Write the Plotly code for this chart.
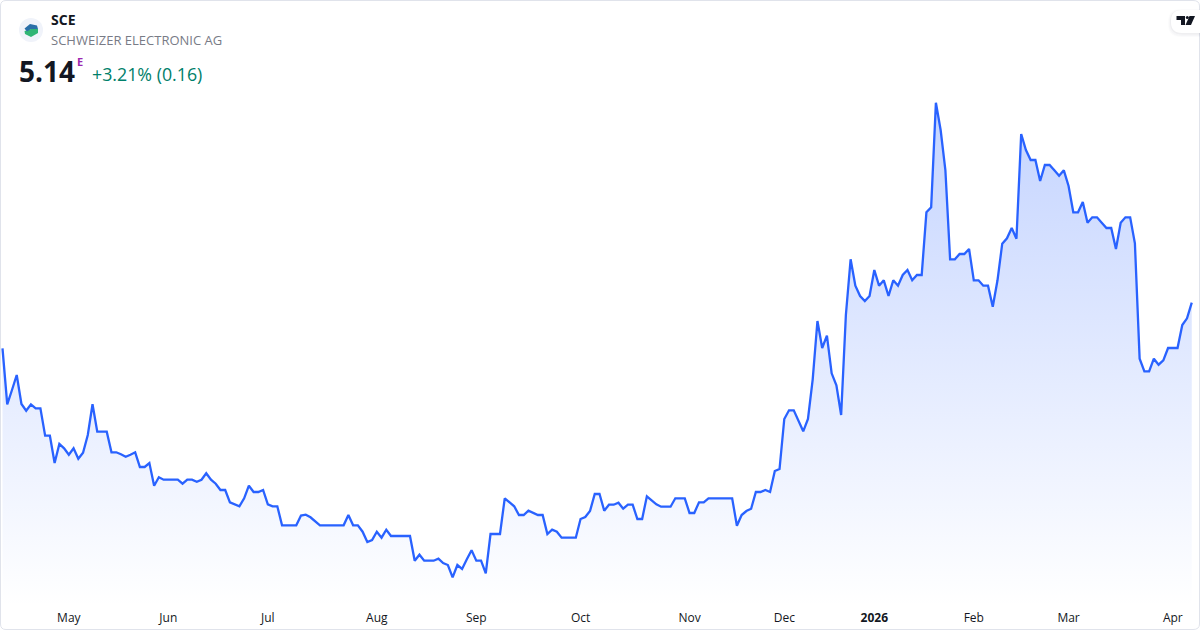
import plotly.graph_objects as go

prices = [
 4.684,4.124,4.267,4.417,4.127,4.06,4.124,4.084,4.084,3.81,3.81,3.537,3.727,3.684,3.62,3.684,3.58,3.64,3.817,4.124,
 3.85,3.85,3.85,3.644,3.644,3.624,3.60,3.62,3.644,3.497,3.497,3.537,3.31,3.394,3.37,3.37,3.37,3.37,3.33,3.37,
 3.37,3.35,3.37,3.434,3.37,3.33,3.267,3.267,3.144,3.124,3.104,3.184,3.31,3.247,3.247,3.267,3.124,3.104,3.104,2.914,
 2.914,2.914,2.914,3.012,3.02,2.994,2.95,2.914,2.914,2.914,2.914,2.914,2.914,3.017,2.914,2.914,2.85,2.747,2.767,2.85,
 2.79,2.87,2.807,2.807,2.807,2.807,2.807,2.56,2.62,2.56,2.56,2.56,2.58,2.537,2.517,2.394,2.517,2.477,2.574,2.664,
 2.56,2.56,2.434,2.827,2.827,2.827,3.184,3.144,3.104,3.017,3.017,3.06,3.037,3.017,3.017,2.827,2.87,2.85,2.79,2.79,
 2.79,2.79,2.977,2.997,3.057,3.227,3.227,3.06,3.12,3.12,3.14,3.08,3.12,3.12,2.977,2.977,3.204,3.167,3.124,3.10,
 3.10,3.10,3.184,3.184,3.184,3.037,3.037,3.144,3.144,3.184,3.184,3.184,3.184,3.184,3.184,2.91,3.017,3.057,3.08,3.247,
 3.247,3.267,3.247,3.457,3.477,3.977,4.064,4.064,3.957,3.854,3.977,4.374,4.957,4.687,4.81,4.434,4.314,4.017,5.017,5.574,
 5.31,5.207,5.157,5.207,5.467,5.31,5.364,5.207,5.364,5.31,5.417,5.467,5.364,5.417,5.417,6.044,6.094,7.14,6.867,6.467,
 5.574,5.574,5.627,5.627,5.677,5.364,5.364,5.31,5.31,5.10,5.364,5.73,5.784,5.887,5.78,6.827,6.667,6.567,6.567,6.357,
 6.517,6.517,6.464,6.41,6.464,6.307,6.044,6.044,6.147,5.94,5.994,5.994,5.94,5.887,5.887,5.677,5.94,5.994,5.994,5.734,
 4.58,4.454,4.454,4.58,4.52,4.564,4.687,4.687,4.687,4.917,4.984,5.14,
]
sessions = list(range(len(prices)))
tick_sessions = [14, 35, 56, 79, 100, 122, 145, 165, 184, 205, 225, 247]
tick_labels = ["May", "Jun", "Jul", "Aug", "Sep", "Oct", "Nov", "Dec", "<b>2026</b>", "Feb", "Mar", "Apr"]

W, H = 1200, 630
BOTTOM = 26
FONT = "Open Sans"
PH = H - BOTTOM

def X(px):
    return px / W
def Y(py):
    return 1 - py / PH
def P(a, b):
    return f"{X(a):.5f} {Y(b):.5f}"
def path(points):
    return "M " + " L ".join(P(a, b) for a, b in points) + " Z"
def rounded_left(x0, y0, x1, y1, r):
    return (f"M {P(x1, y0)} L {P(x0 + r, y0)} Q {P(x0, y0)} {P(x0, y0 + r)} "
            f"L {P(x0, y1 - r)} Q {P(x0, y1)} {P(x0 + r, y1)} L {P(x1, y1)} Z")
def shape_path(d, fill, line=None):
    return dict(type="path", xref="paper", yref="paper", layer="above", path=d, fillcolor=fill,
                line=line or dict(width=0))

fig = go.Figure(go.Scatter(
    x=sessions, y=prices, mode="lines",
    line=dict(color="#2962ff", width=2.3, shape="linear"),
    fill="tozeroy",
    fillgradient=dict(type="vertical", start=7.2, stop=2.1,
                      colorscale=[[0, "rgba(41,98,255,0.28)"], [1, "rgba(41,98,255,0.0)"]]),
    hoverinfo="skip", showlegend=False,
))

card = (f"M {P(6, .5)} L {P(1193, .5)} Q {P(1199.5, .5)} {P(1199.5, 6)} L {P(1199.5, 624)} "
        f"Q {P(1199.5, 629.5)} {P(1193, 629.5)} L {P(6, 629.5)} Q {P(.5, 629.5)} {P(.5, 624)} "
        f"L {P(.5, 6)} Q {P(.5, .5)} {P(6, .5)} Z")

shapes = [
    shape_path(card, "rgba(0,0,0,0)", dict(color="#e0e3eb", width=1)),
    dict(type="circle", xref="paper", yref="paper", x0=X(19), x1=X(43), y0=Y(18), y1=Y(42),
         line=dict(width=0), fillcolor="#f0f3fa", layer="above"),
    shape_path(path([(24.5, 31), (31, 29), (38, 29), (38, 33), (31, 37), (25, 34)]), "#2fb574"),
    shape_path(path([(24.5, 28.5), (30, 24), (37, 25.5), (38, 29), (31, 29), (27, 31.5)]), "#2a6fa8"),
    # watermark pill with soft shadow
    shape_path(rounded_left(1168, 9, 1200, 37, 13), "rgba(19,23,34,0.015)"),
    shape_path(rounded_left(1169, 10, 1200, 36, 12), "rgba(19,23,34,0.02)"),
    shape_path(rounded_left(1170, 10, 1200, 34.5, 12), "rgba(19,23,34,0.03)"),
    shape_path(rounded_left(1171, 10, 1200, 33, 11), "#ffffff"),
    shape_path(path([(1176.5, 16), (1185, 16), (1185, 25), (1181, 25), (1181, 20), (1176.5, 20)]), "#131722"),
    dict(type="circle", xref="paper", yref="paper", x0=X(1185.8), x1=X(1188.8), y0=Y(16), y1=Y(19),
         line=dict(width=0), fillcolor="#131722", layer="above"),
    shape_path(path([(1189.5, 16), (1195, 16), (1191, 25), (1185.5, 25)]), "#131722"),
]

def note(text, px, py, size, color, bold=False, family=FONT):
    return dict(text=f"<b>{text}</b>" if bold else text, xref="paper", yref="paper",
                x=X(px - 2), y=Y(py), xanchor="left", yanchor="middle", showarrow=False,
                font=dict(size=size, color=color, family=family))

annotations = [
    note("SCE", 51, 20, 14, "#131722", True),
    note("SCHWEIZER ELECTRONIC AG", 51, 40, 13, "#787b86"),
    note("5.14", 19, 70.5, 28, "#131722", True),
    note("E", 77, 61.5, 11, "#9c27b0", True),
    note("+3.21% (0.16)", 92, 74, 17.8, "#00806a"),
]

fig.update_layout(
    width=W, height=H, margin=dict(l=0, r=0, t=0, b=BOTTOM, pad=0),
    paper_bgcolor="#ffffff", plot_bgcolor="#ffffff",
    font=dict(family=FONT, size=12, color="#131722"),
    shapes=shapes, annotations=annotations, showlegend=False,
    xaxis=dict(range=[-0.528, 252.74], tickmode="array", tickvals=tick_sessions, ticktext=tick_labels,
               showgrid=False, zeroline=False, showline=False, ticks="outside", ticklen=3,
               tickcolor="rgba(0,0,0,0)", tickfont=dict(size=12, color="#131722", family=FONT), fixedrange=True),
    yaxis=dict(range=[8.167 - PH / 100, 8.167], visible=False, fixedrange=True),
)
fig.write_html("out.html", config={"displayModeBar": False},
               post_script="document.body.style.margin='0';document.body.style.overflow='hidden';")
